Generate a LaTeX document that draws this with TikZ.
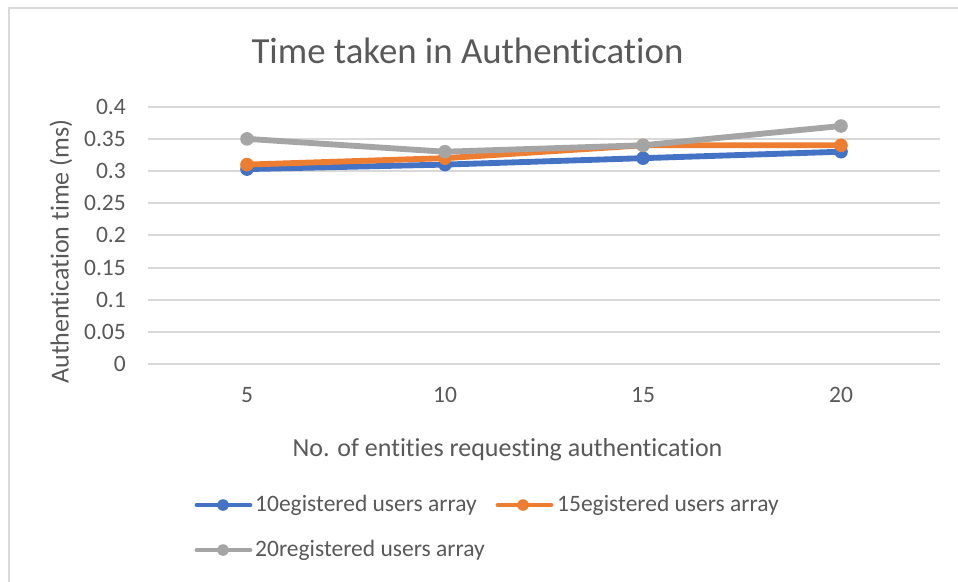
\documentclass[tikz,border=0pt]{standalone}
\usepackage{fontspec}
\setmainfont{Carlito}[RawFeature={-liga;-dlig;-clig}]
\definecolor{txt}{HTML}{595959}
\definecolor{grid}{HTML}{D9D9D9}
\definecolor{sblue}{HTML}{4472C4}
\definecolor{sorange}{HTML}{ED7D31}
\definecolor{sgray}{HTML}{A5A5A5}
\tikzset{
  gridline/.style={draw=grid, line width=2pt},
  series/.style={line width=5.85pt, line join=round, line cap=round},
  lgline/.style={line width=4.8pt, line cap=round},
  tick/.style={text=txt, font=\fontsize{23.5}{26}\selectfont, inner sep=0pt},
  lgtext/.style={text=txt, font=\fontsize{23.5}{26}\selectfont, inner sep=0pt, anchor=west},
}
\begin{document}
\begin{tikzpicture}[x=1pt,y=-1pt]
\useasboundingbox (0,0) rectangle (958,581);
\fill[white] (0,0) rectangle (958,581);
% chart border (partly outside)
\draw[draw=grid, line width=2pt] (9.3,590) -- (9.3,8.3) -- (970,8.3);
% title
\node[text=txt, font=\fontsize{36.8}{40}\selectfont, anchor=base, inner sep=0pt] (title) at (467.5,63) {Time taken in Authentication};
% gridlines and y labels
\foreach \v/\l in {0/0,0.05/0.05,0.1/0.1,0.15/0.15,0.2/0.2,0.25/0.25,0.3/0.3,0.35/0.35,0.4/0.4}{
  \pgfmathsetmacro{\yy}{364-643.25*\v}
  \draw[gridline] (148,\yy) -- (940,\yy);
  \node[tick, anchor=east] at (126,\yy) {\l};
}
% x labels
\foreach \x/\l in {247/5,445/10,643/15,841/20}{
  \node[tick] at (\x,395) {\l};
}
% axis titles
\node[text=txt, font=\fontsize{26}{30}\selectfont, inner sep=0pt] (xtitle) at (507.5,450) {No. of entities requesting authentication};
\node[text=txt, font=\fontsize{26}{30}\selectfont, inner sep=0pt, rotate=90] (ytitle) at (61,251.5) {Authentication time (ms)};
% series
\def\Y#1{364-643.25*#1}
\foreach \c/\a/\b/\cc/\d in {sblue/0.303/0.31/0.32/0.33, sorange/0.31/0.32/0.34/0.34, sgray/0.35/0.33/0.34/0.37}{
  \coordinate (p1) at (247,{\Y{\a}});
  \coordinate (p2) at (445,{\Y{\b}});
  \coordinate (p3) at (643,{\Y{\cc}});
  \coordinate (p4) at (841,{\Y{\d}});
  \draw[series, draw=\c] (p1) -- (p2) -- (p3) -- (p4);
  \foreach \p in {p1,p2,p3,p4}{\fill[\c] (\p) circle (6.8pt);}
}
% legend
\coordinate (l1a) at (197,505); \coordinate (l1b) at (250,505);
\draw[lgline, draw=sblue] (l1a) -- (l1b); \fill[sblue] (223,505) circle (5.8pt);
\node[lgtext] (lt1) at (255,505) {10egistered users array};
\coordinate (l2a) at (498,505); \coordinate (l2b) at (551,505);
\draw[lgline, draw=sorange] (l2a) -- (l2b); \fill[sorange] (523,505) circle (5.8pt);
\node[lgtext] (lt2) at (557,505) {15egistered users array};
\coordinate (l3a) at (197,550); \coordinate (l3b) at (250,550);
\draw[lgline, draw=sgray] (l3a) -- (l3b); \fill[sgray] (223,550) circle (5.8pt);
\node[lgtext] (lt3) at (255,550) {20registered users array};
\end{tikzpicture}
\end{document}
